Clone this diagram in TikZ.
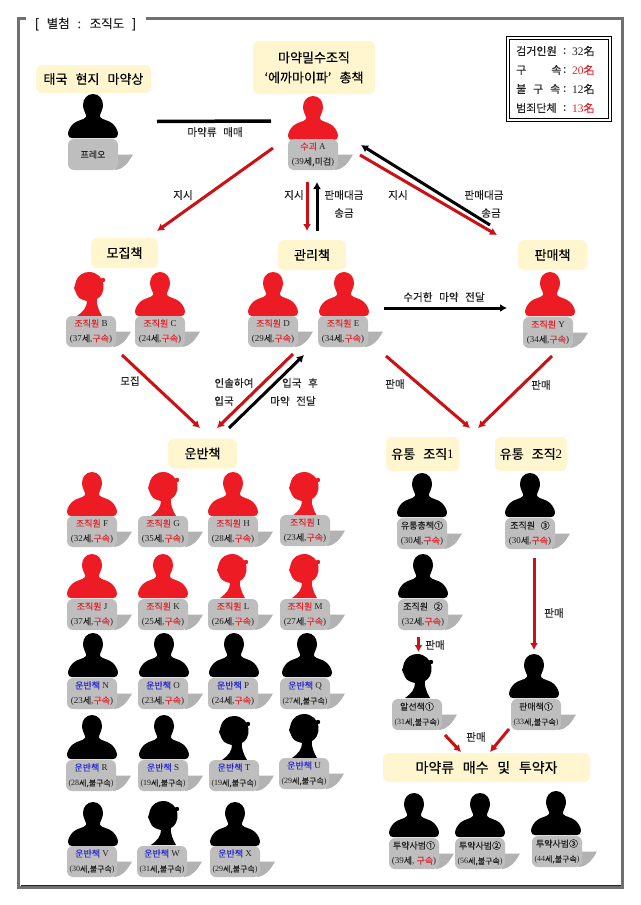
\documentclass[tikz,border=0pt]{standalone}
\usepackage{fontspec}
\usepackage{xcolor}
\usetikzlibrary{arrows.meta}
\setmainfont{Liberation Serif}
\newfontfamily\krf[FakeBold=0.25]{Noto Sans CJK KR}
\newcommand{\K}[1]{{\krf\spaceskip=0.62em\relax #1}}
\definecolor{silred}{HTML}{ED1C24}
\definecolor{arrred}{HTML}{CC1014}
\definecolor{txtred}{HTML}{E0242C}
\definecolor{txtblue}{HTML}{2A2AD0}
\definecolor{taggray}{HTML}{BEBEBE}
\definecolor{tailgray}{HTML}{B2B2B2}
\definecolor{boxyel}{HTML}{FFF6CF}
\definecolor{framegray}{HTML}{707070}
\definecolor{ink}{HTML}{222222}
\newcommand{\RD}[1]{{\color{txtred}\K{#1}}}
\newcommand{\BL}[1]{{\color{txtblue}\K{#1}}}
\newcommand{\memb}[1]{\RD{조직원} #1}
\newcommand{\carr}[1]{\BL{운반책} #1}
\newcommand{\ageY}[1]{(#1\K{세},\RD{구속})}
\newcommand{\ageN}[1]{{\fontsize{8}{15}\selectfont(#1\K{세,불구속})}}
\newcommand{\legv}[1]{{\fontsize{11.5}{12}\selectfont #1}}
\newcommand{\malesil}{(25,0) .. controls (31,0) and (35,5) .. (35,11) .. controls (35,15) and (33,18) .. (32,21) -- (32,23) .. controls (34,26) and (41,26) .. (45,30) .. controls (48,33) and (50,37) .. (50,40) .. controls (50,43) and (48,44) .. (46,44) -- (4,44) .. controls (2,44) and (0,43) .. (0,40) .. controls (0,37) and (2,33) .. (5,30) .. controls (9,26) and (16,26) .. (18,23) -- (18,21) .. controls (17,18) and (15,15) .. (15,11) .. controls (15,5) and (19,0) .. (25,0) -- cycle}
\newcommand{\femalesil}{(25,0) .. controls (33,0) and (39,6) .. (39.5,13) .. controls (40,20) and (37,25) .. (33,27) .. controls (32,32) and (35,39) .. (38,44) -- (13,44) .. controls (19,40) and (23,35) .. (23,29) .. controls (19,28) and (15,27) .. (13,23) .. controls (12,20) and (11,19) .. (10,16) .. controls (11,15) and (11,12) .. (12,9) .. controls (14,3) and (20,0) .. (25,0) -- cycle (39,8) circle (2.2)}
\newcommand{\tagtail}[2]{\fill[tailgray,shift={(#1,#2)}] (48,15.5) -- (65,15.5) .. controls (60,24) and (56,30) .. (47,31) -- cycle;}
% name, silhouette x, silhouette top, tag x, tag top, colour, shape macro, line 1, line 2
\newcommand{\person}[9]{%
  \fill[#6,shift={(#2,#3)}] #7;
  \tagtail{#4}{#5}
  \node[tagbox] (#1) at (#4+25,#5+15.5) {#8\\#9};
}
\newcommand{\lbl}[4]{\node[lab] (#1) at (#2,#3) {\K{#4}};}
\tikzset{
  x=1pt,y=-1pt,
  tagbox/.style={fill=taggray,rounded corners=6pt,minimum width=50pt,minimum height=31pt,inner sep=0pt,align=center,text=ink,font=\fontsize{9}{15}\selectfont},
  yelbox/.style={fill=boxyel,rounded corners=6pt,inner sep=0pt,align=center,text=black,font=\fontsize{13}{20}\selectfont},
  lab/.style={inner sep=0pt,text=ink,align=center,font=\fontsize{10.6}{18}\selectfont},
  redarrow/.style={draw=arrred,line width=3pt,-{Latex[length=7pt,width=8pt]}},
  blkarrow/.style={draw=black,line width=3pt,-{Latex[length=7pt,width=8pt]}},
  legtext/.style={inner sep=0pt,anchor=west,text=ink,font=\fontsize{11}{12}\selectfont}
}
\begin{document}
\begin{tikzpicture}
\useasboundingbox (0,0) rectangle (640,905);
\fill[white] (0,0) rectangle (640,905);
% outer frame
\draw[framegray,line width=3pt] (26,18.5) -- (18.5,18.5) -- (18.5,887) -- (622,887) -- (622,18.5) -- (146,18.5);
\draw[ink,line width=0.8pt] (20.5,885.5) -- (620.5,885.5);
\node[inner sep=0pt,text=ink,font=\fontsize{12.5}{14}\selectfont] (title) at (85.5,24) {\K{[ 별첨 : 조직도 ]}};
% legend
\draw[black,line width=1.2pt] (506.5,36.5) rectangle (611.5,121.5);
\draw[black,line width=0.9pt] (509.5,39.5) rectangle (608.5,118.5);
\node[legtext] (l1a) at (516,51) {\K{검거인원}};
\node[legtext] (l1b) at (563,51) {\K{:}};
\node[legtext] (l1c) at (572,51) {\legv{32}\K{名}};
\node[legtext] (l2a) at (516,70) {\K{구}\hspace{25pt}\K{속}};
\node[legtext] (l2b) at (563,70) {\K{:}};
\node[legtext] (l2c) at (572,70) {\color{txtred}\legv{20}\K{名}};
\node[legtext] (l3a) at (516,89) {\K{불 구 속}};
\node[legtext] (l3b) at (563,89) {\K{:}};
\node[legtext] (l3c) at (572,89) {\legv{12}\K{名}};
\node[legtext] (l4a) at (516,108) {\K{범죄단체}};
\node[legtext] (l4b) at (563,108) {\K{:}};
\node[legtext] (l4c) at (572,108) {\color{txtred}\legv{13}\K{名}};
% yellow boxes
\node[yelbox,minimum width=115pt,minimum height=28pt] (yThai) at (93.5,79) {\K{태국 현지 마약상}};
\node[yelbox,minimum width=122pt,minimum height=53pt] (yBoss) at (314,67.5) {\K{마약밀수조직}\\\K{‘에까마이파’ 총책}};
\node[yelbox,minimum width=67pt,minimum height=30pt] (yRec) at (124.5,253) {\K{모집책}};
\node[yelbox,minimum width=68pt,minimum height=30pt] (yMgr) at (312,255) {\K{관리책}};
\node[yelbox,minimum width=69pt,minimum height=30pt] (ySale) at (552.5,255) {\K{판매책}};
\node[yelbox,minimum width=69pt,minimum height=30pt] (yCar) at (202.5,453.5) {\K{운반책}};
\node[yelbox,minimum width=73pt,minimum height=34pt] (yD1) at (422.5,454) {\K{유통 조직}1};
\node[yelbox,minimum width=72pt,minimum height=34pt] (yD2) at (531,454) {\K{유통 조직}2};
\node[yelbox,minimum width=207pt,minimum height=29pt,font=\fontsize{14}{20}\selectfont] (yBuy) at (486.5,767.5) {\K{마약류 매수 및 투약자}};
% top people
\fill[black,shift={(68,94)}] \malesil;
\tagtail{68}{139}
\node[tagbox] (tP) at (93,154.5) {\K{프레오}};
\person{tA}{288}{96}{288}{139}{silred}{\malesil}{\RD{수괴} A}{(39\K{세,미검})}
% recruiters and managers
\person{tB}{64}{272}{66}{316}{silred}{\femalesil}{\memb{B}}{\ageY{37}}
\person{tC}{135}{272}{135}{316}{silred}{\malesil}{\memb{C}}{\ageY{24}}
\person{tD}{248}{272}{248}{316}{silred}{\malesil}{\memb{D}}{\ageY{29}}
\person{tE}{319}{272}{318}{316}{silred}{\malesil}{\memb{E}}{\ageY{34}}
\person{tY}{525}{272}{523}{317}{silred}{\malesil}{\memb{Y}}{\ageY{34}}
% carriers
\person{tF}{67}{472}{67}{516}{silred}{\malesil}{\memb{F}}{\ageY{32}}
\person{tG}{138}{472}{138}{516}{silred}{\femalesil}{\memb{G}}{\ageY{35}}
\person{tH}{208}{472}{208}{516}{silred}{\malesil}{\memb{H}}{\ageY{28}}
\person{tI}{279}{472}{280}{515}{silred}{\femalesil}{\memb{I}}{\ageY{23}}
\person{tJ}{67}{554}{67}{599}{silred}{\malesil}{\memb{J}}{\ageY{37}}
\person{tK}{138}{554}{138}{599}{silred}{\malesil}{\memb{K}}{\ageY{25}}
\person{tL}{207}{554}{208}{599}{silred}{\femalesil}{\memb{L}}{\ageY{26}}
\person{tM}{279}{554}{280}{599}{silred}{\femalesil}{\memb{M}}{\ageY{27}}
\person{tN}{68}{633}{67}{678}{black}{\malesil}{\carr{N}}{\ageY{23}}
\person{tO}{139}{633}{138}{678}{black}{\malesil}{\carr{O}}{\ageY{23}}
\person{tQp}{209}{633}{208}{678}{black}{\malesil}{\carr{P}}{\ageY{24}}
\person{tQ}{282}{633}{280}{678}{black}{\malesil}{\carr{Q}}{\ageN{27}}
\person{tR}{67}{715}{66}{760}{black}{\malesil}{\carr{R}}{\ageN{28}}
\person{tS}{139}{715}{138}{760}{black}{\malesil}{\carr{S}}{\ageN{19}}
\person{tT}{209}{716}{209}{760}{black}{\femalesil}{\carr{T}}{\ageN{19}}
\person{tU}{279}{714}{279}{758}{black}{\femalesil}{\carr{U}}{\ageN{29}}
\person{tV}{68}{802}{67}{846}{black}{\malesil}{\carr{V}}{\ageN{30}}
\person{tW}{138}{801}{137}{846}{black}{\femalesil}{\carr{W}}{\ageN{31}}
\person{tX}{210}{802}{210}{846}{black}{\malesil}{\carr{X}}{\ageN{29}}
% distribution
\person{t1}{397}{473}{397}{518}{black}{\malesil}{\K{유통총책①}}{\ageY{30}}
\person{t3}{505}{473}{505}{518}{black}{\malesil}{\K{조직원 ③}}{\ageY{30}}
\person{t2}{398}{554}{398}{599}{black}{\malesil}{\K{조직원 ②}}{\ageY{32}}
\person{tAl}{392}{654}{392}{699}{black}{\femalesil}{\K{알선책①}}{\ageN{31}}
\person{tS1}{509}{654}{511}{699}{black}{\malesil}{\K{판매책①}}{\ageN{33}}
\person{tU1}{389}{793}{389}{838}{black}{\malesil}{\K{투약사범①}}{(39\K{세}, \RD{구속})}
\person{tU2}{455}{793}{455}{838}{black}{\malesil}{\K{투약사범②}}{\ageN{56}}
\person{tU3}{531}{791}{532}{836}{black}{\malesil}{\K{투약사범③}}{\ageN{44}}
% connectors
\draw[black,line width=3.5pt] ([shift={(64,-33)}]tP.center) -- ([shift={(-42,-33.5)}]tA.center);
\draw[redarrow] ([shift={(-40,-6.5)}]tA.center) -- ([shift={(32.5,-22)}]yRec.center);
\draw[redarrow] ([shift={(-6,27.5)}]tA.center) -- ([shift={(-5,-24)}]yMgr.center);
\draw[blkarrow] ([shift={(5,-24)}]yMgr.center) -- ([shift={(4,27.5)}]tA.center);
\draw[blkarrow] ([shift={(-62.5,-30)}]ySale.center) -- ([shift={(48,-9.5)}]tA.center);
\draw[redarrow] ([shift={(47,0.5)}]tA.center) -- ([shift={(-55.5,-20)}]ySale.center);
\draw[redarrow] ([shift={(31,23.5)}]tB.center) -- ([shift={(-2.5,-25.5)}]yCar.center);
\draw[redarrow] ([shift={(20,22.5)}]tD.center) -- ([shift={(14.5,-25.5)}]yCar.center);
\draw[blkarrow] ([shift={(26.5,-25.5)}]yCar.center) -- ([shift={(31,23.5)}]tD.center);
\draw[blkarrow] ([shift={(41,-23.5)}]tE.center) -- ([shift={(-41,-24.5)}]tY.center);
\draw[redarrow] ([shift={(43,24.5)}]tE.center) -- ([shift={(47.5,-26)}]yD1.center);
\draw[redarrow] ([shift={(4,23.5)}]tY.center) -- ([shift={(55.5,-26)}]yD1.center);
\draw[redarrow] ([shift={(4,24.5)}]t3.center) -- ([shift={(-2,-64.5)}]tS1.center);
\draw[redarrow] ([shift={(-4.5,22.5)}]t2.center) -- ([shift={(1.5,-62.5)}]tAl.center);
\draw[redarrow] ([shift={(28,20.5)}]tAl.center) -- ([shift={(-25.5,-15.5)}]yBuy.center);
\draw[redarrow] ([shift={(-27,14.5)}]tS1.center) -- ([shift={(3.5,-15.5)}]yBuy.center);
% connector labels
\lbl{a1}{215}{132}{마약류 매매}
\lbl{a2}{183}{195}{지시}
\lbl{a3}{294}{195}{지시}
\lbl{a4}{344}{195}{판매대금}
\lbl{a5}{344}{213}{송금}
\lbl{a6}{398}{195}{지시}
\lbl{a7}{484}{195}{판매대금}
\lbl{a8}{491}{213}{송금}
\lbl{a9}{130}{381}{모집}
\lbl{a10}{234}{383}{인솔하여}
\lbl{a11}{224}{401}{입국}
\lbl{a12}{300}{383}{입국 후}
\lbl{a13}{293}{401}{마약 전달}
\lbl{a14}{444}{297}{수거한 마약 전달}
\lbl{a15}{395}{384}{판매}
\lbl{a16}{541}{385}{판매}
\lbl{a17}{554}{613}{판매}
\lbl{a18}{435}{645}{판매}
\lbl{a19}{476}{737}{판매}
\end{tikzpicture}
\end{document}
